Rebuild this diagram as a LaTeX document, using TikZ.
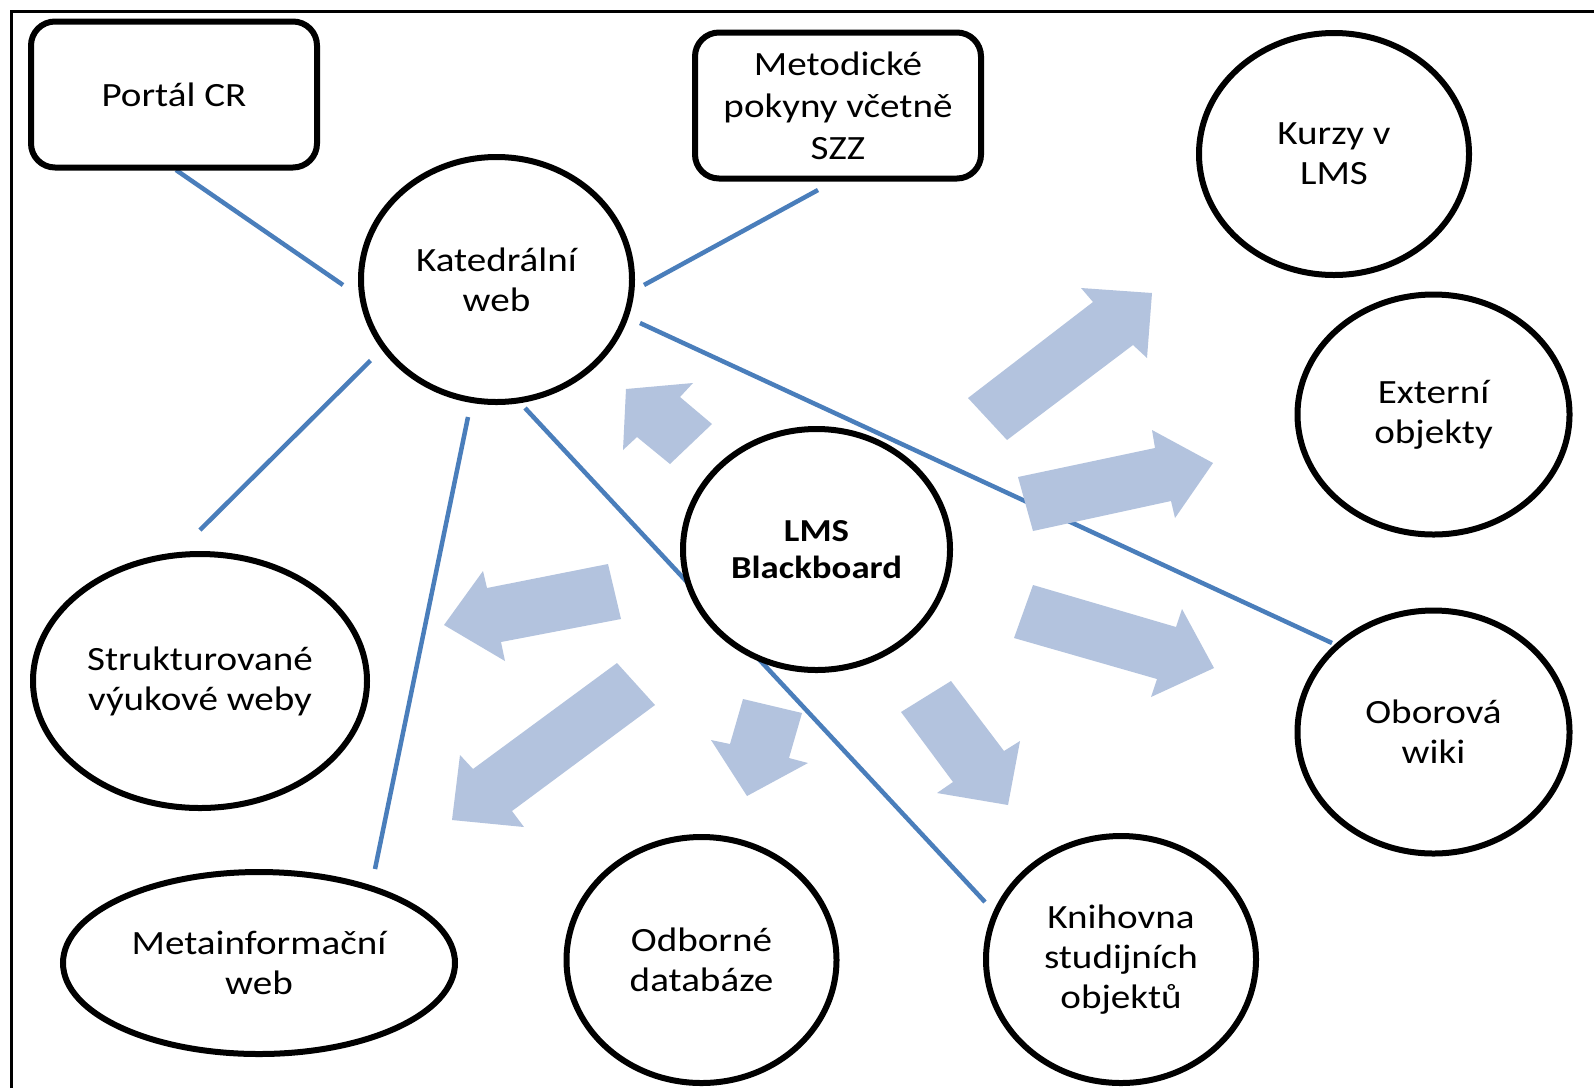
\documentclass[tikz,border=0pt]{standalone}
\usepackage{fontspec}
\setmainfont{Carlito}[FakeStretch=1.15]
\usetikzlibrary{shapes.geometric,backgrounds}
\definecolor{linkblue}{HTML}{4A7EBB}
\definecolor{arrowfill}{HTML}{B3C3DE}
\begin{document}
\begin{tikzpicture}[x=1pt,y=-1pt,
  every node/.style={font=\fontsize{34}{40}\selectfont, align=center, inner sep=0pt},
  bub/.style={ellipse, draw, line width=6pt, fill=white},
  boxnode/.style={rectangle, rounded corners=24pt, draw, line width=6pt, fill=white,
    minimum width=286pt, minimum height=146pt},
  link/.style={draw=linkblue, line width=4.5pt},
  barr/.style={fill=arrowfill},
]
\useasboundingbox (0,0) rectangle (1594,1088);
\draw[line width=3pt] (11,1088) -- (11,11.5) -- (1594,11.5);

% nodes
\node[boxnode] (portal) at (174,94.5) {Portál CR};
\node[boxnode, font=\fontsize{34}{42}\selectfont] (metod) at (838,105.5) {Metodické\\pokyny včetně\\SZZ};
\node[bub, minimum width=271pt, minimum height=245pt] (kat) at (496.5,279.5) {Katedrální\\web};
\node[bub, minimum width=270pt, minimum height=242pt] (kurzy) at (1334,154) {Kurzy v\\LMS};
\node[bub, minimum width=272pt, minimum height=240pt] (ext) at (1433.5,414.5) {Externí\\objekty};
\node[bub, minimum width=267pt, minimum height=241pt, font=\bfseries\fontsize{32}{37}\selectfont] (lms) at (816.5,549.5) {LMS\\Blackboard};
\node[bub, minimum width=334pt, minimum height=254pt] (strukt) at (200,681) {Strukturované\\výukové weby};
\node[bub, minimum width=272pt, minimum height=243pt] (obor) at (1433.5,732) {Oborová\\wiki};
\node[bub, minimum width=392pt, minimum height=182pt] (meta) at (259,963) {Metainformační\\web};
\node[bub, minimum width=270pt, minimum height=246pt] (odb) at (701.5,960) {Odborné\\databáze};
\node[bub, minimum width=270pt, minimum height=247pt] (knih) at (1121,959.5) {Knihovna\\studijních\\objektů};

% connector end points
\coordinate (portalA) at (176,170);
\coordinate (katP) at (343,285);
\coordinate (metodA) at (818,190);
\coordinate (katM) at (644,285);
\coordinate (katO) at (640,323);
\coordinate (oborA) at (1332,643);
\coordinate (katS) at (370.5,360.5);
\coordinate (struktA) at (200,530);
\coordinate (katT) at (468,417);
\coordinate (metaA) at (375,869);
\coordinate (katK) at (525,408);
\coordinate (knihA) at (985,902);

\begin{pgfonlayer}{background}
\fill[white] (0,0) rectangle (1594,1088);
\draw[link] (portalA) -- (katP);
\draw[link] (metodA) -- (katM);
\draw[link] (katO) -- (oborA);
\draw[link] (katS) -- (struktA);
\draw[link] (katT) -- (metaA);
\draw[link] (katK) -- (knihA);

% block arrows
\fill[barr] (626,389) -- (693,383) -- (680,397) -- (712,424) -- (670,464) -- (637,437) -- (623,450) -- cycle;
\fill[barr] (968,398) -- (1007,440) -- (1133,345) -- (1147,358) -- (1152,293) -- (1081,288) -- (1093,302) -- cycle;
\fill[barr] (1018,477) -- (1155,448) -- (1152,430) -- (1213,463) -- (1175,518) -- (1171,501) -- (1033,531) -- cycle;
\fill[barr] (1033,585) -- (1176,627) -- (1182,609) -- (1214,668) -- (1151,697) -- (1157,679) -- (1014,638) -- cycle;
\fill[barr] (951,681) -- (1004,751) -- (1020,741) -- (1008,805) -- (937,793) -- (953,782) -- (901,712) -- cycle;
\fill[barr] (743,699) -- (802,713) -- (789,758) -- (808,763) -- (747,796) -- (711,740) -- (730,744) -- cycle;
\fill[barr] (617,663) -- (655,705) -- (512,811) -- (524,827) -- (452,820) -- (460,755) -- (473,769) -- cycle;
\fill[barr] (608,564) -- (621,619) -- (501,642) -- (505,661) -- (444,625) -- (483,571) -- (487,588) -- cycle;
\end{pgfonlayer}
\end{tikzpicture}
\end{document}
